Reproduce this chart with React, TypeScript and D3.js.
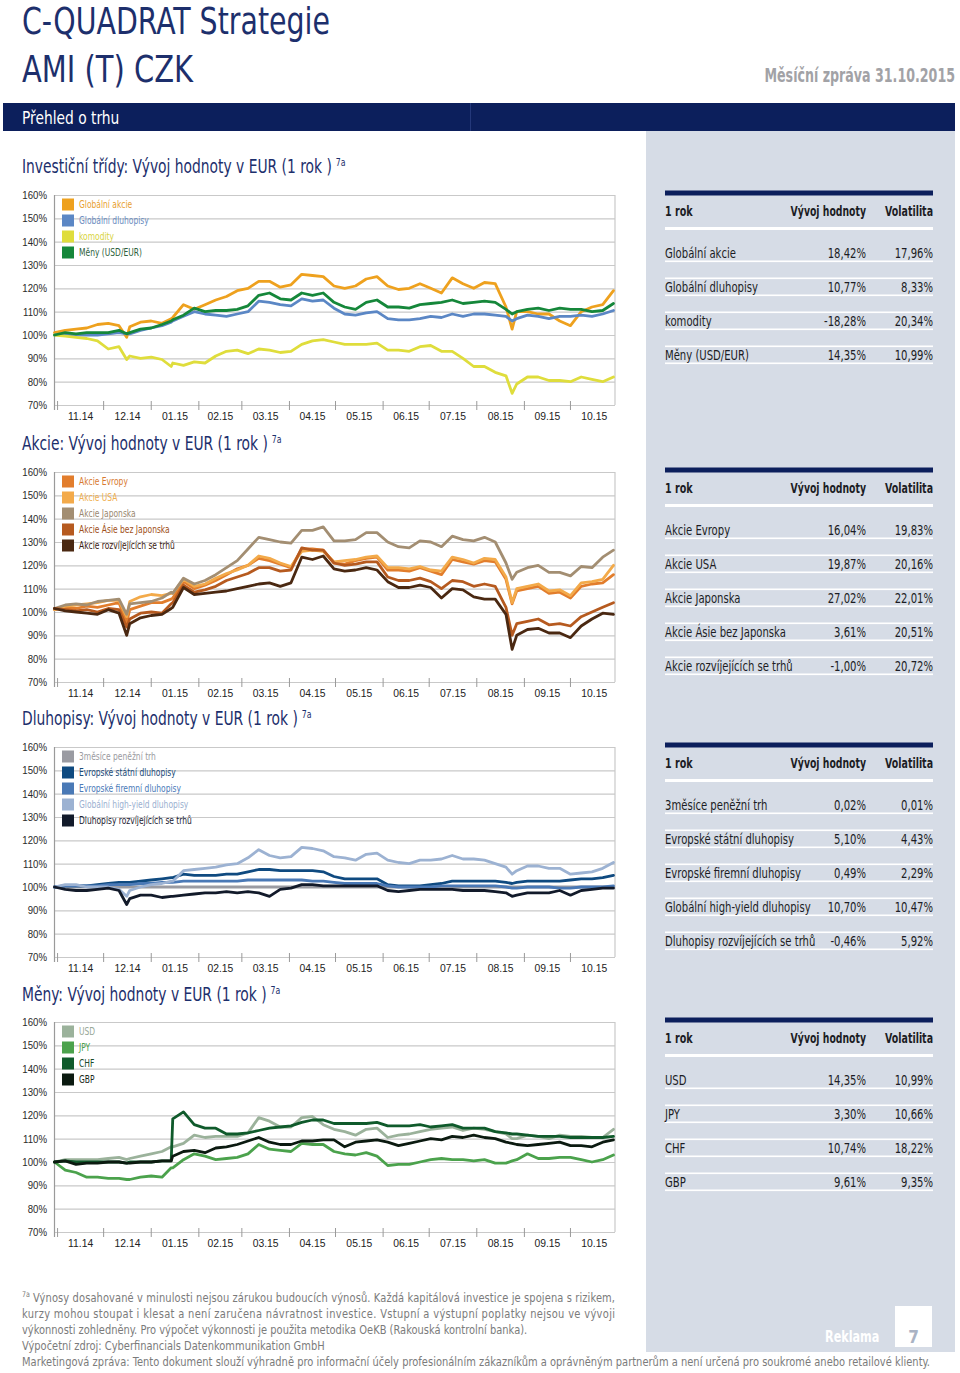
import React from 'react';
import * as d3 from 'd3';

// ---------- shared x grid (days after 30.10.2014) ----------
const DAYS = [0, 7, 14, 21, 28, 35, 42, 47, 49, 56, 63, 70, 76, 77, 84, 91, 98, 105, 112, 119, 126, 133, 140, 147, 154, 161, 168, 175, 182, 189, 196, 203, 210, 217, 224, 231, 238, 245, 252, 259, 266, 273, 280, 287, 294, 298, 301, 308, 315, 322, 329, 336, 343, 350, 357, 364];
const START = new Date(2014, 9, 30);
const DATES = DAYS.map((d) => d3.timeDay.offset(START, d));
const Y_TICKS = [70, 80, 90, 100, 110, 120, 130, 140, 150, 160];

// ---------- Chart 1: Investiční třídy ----------
const c1Names = ['Globální akcie', 'Globální dluhopisy', 'komodity', 'Měny (USD/EUR)'];
const c1Colors = ['#eea11e', '#5b87c5', '#dfdd3c', '#15873a'];
const c1Text = ['#e8a030', '#6a8cc0', '#d8d440', '#2f5f3d'];
const glAkcie = [101,102,102.5,103,104.5,105,104,99,103.5,105.5,106,105,107,107.5,113,111,113,115,116.5,119,120,123,123,120.5,121.5,126,125.5,125,121,120,121,124,125,121,119.5,120,122,120,118,124.5,122,120,122.5,122,112,102.5,110,110,109,109,106,104,110,112,113,119];
const glDluhopisy = [100,100.5,100,100,100,100.5,101,100.5,100.5,102,103,104,105.5,106,108,110,109,108.5,108,109,110,114.5,114,113,112.5,115.5,114.5,115,111.5,109,108.5,109.5,110,107,106.5,106.5,107,108,107.5,109,108,109,109,108.5,108,106,107,108.5,108,107,108,108,108.5,108,109,110.5];
const komodity = [100,99.5,99,98.5,97.5,94,95,89.5,91,90,90.5,89.5,86.5,88,87,88.5,88,91,93,93.5,92,94,93.5,92.5,93,96,97.5,98,97,96,96,96,96.5,93.5,93.5,93,95,95.5,93,93,90,86.5,86.5,84,82.5,75,79,82,82,80.5,80.5,80,82,81,80,82];
const menyUsdEur = [100,101,100.5,101,101,101,102,100.5,101,102.5,103,104.5,106,106.5,108.5,111.5,110,110.5,110.5,111,112.5,117,118,115.5,115,118,117,118,114,112,111,114,115,112,112,111.5,113,113.5,114,115,113.5,114,114.5,114,111,109,110,111,111.5,110.5,111.5,111,111,110,110.5,113.5];
const t1Names = ['Globální akcie', 'Globální dluhopisy', 'komodity', 'Měny  (USD/EUR)'];
const t1Perf = ['18,42%', '10,77%', '-18,28%', '14,35%'];
const t1Vol = ['17,96%', '8,33%', '20,34%', '10,99%'];

// ---------- Chart 2: Akcie ----------
const c2Names = ['Akcie Evropy', 'Akcie USA', 'Akcie Japonska', 'Akcie Ásie bez Japonska', 'Akcie rozvíjejících se trhů'];
const c2Colors = ['#e27d2c', '#f3aa4a', '#a38e72', '#b65a1f', '#4a2811'];
const c2Text = ['#d87a30', '#f0b050', '#9a8870', '#a05020', '#3a2010'];
const akcieEvropy = [101,102,101.5,102.5,102,103,104,95.5,101,102.5,104,104,105.5,106,113,110,111.5,113.5,116,118.5,120,123,122,120.5,119,127,127,126.5,121,120.5,122,123,123.5,118,118,117.5,119,117.5,116,122.5,121.5,120.5,122,121.5,114,103.5,109,110,111,108,108.5,106,111,112,112.5,116];
const akcieUSA = [101,102.5,103,103.5,104,105,105,98,104.5,106.5,107.5,107,108,108,114,111,112,114.5,116.5,118,120,124,123,121,119.5,126,126.5,126,121.5,122,122.5,123.5,124,119,119,118.5,119.5,118,117.5,123.5,122.5,121,123,122.5,115,104,110,111,112,109,109.5,107,112.5,113,114,120];
const akcieJaponska = [101.5,103,103.5,103,104.5,105,105.5,99,103.5,104,104.5,106,108.5,108,114.5,112,113.5,116,119,122,127,132,131,130,129.5,135,135,136.5,130.5,130.5,131,134,134,130,128,127.5,130.5,130,128,132.5,131,130.5,132,130,121,114,117,119,120,117,117,115.5,119.5,119,123.5,126.5];
const akcieAsie = [101.5,101,100.5,101,100,101.5,101,93.5,97,99.5,100,99.5,103.5,104,111.5,108.5,109.5,111,113.5,115,116.5,119,119,117.5,118,127.5,126.5,126.5,121,120,120.5,121.5,121.5,115,113.5,113.5,114.5,113,110,113.5,113,111,112,111,102,90,95,96,97,94.5,95,94,98,100,102,104];
const akcieEM = [101.5,100.5,100,99.5,99,101,99.5,90,95,97.5,98.5,99,101.5,102,110.5,107.5,108,108.5,109,110,111,112,112.5,111,112.5,123.5,122.5,124,118.5,117.5,118,119,118,113,110.5,110.5,111.5,110.5,106,110,109.5,106.5,105.5,105.5,99,84,90,92.5,93,91,91,89,94,97,99.5,99];
const t2Perf = ['16,04%', '19,87%', '27,02%', '3,61%', '-1,00%'];
const t2Vol = ['19,83%', '20,16%', '22,01%', '20,51%', '20,72%'];

// ---------- Chart 3: Dluhopisy ----------
const c3Names = ['3měsíce peněžní trh', 'Evropské státní dluhopisy', 'Evropské firemní dluhopisy', 'Globální high-yield dluhopisy', 'Dluhopisy rozvíjejících se trhů'];
const c3Colors = ['#9a9ba2', '#0f4a80', '#4a79b6', '#9cb2d2', '#121a2a'];
const c3Text = ['#9a9aa0', '#1a4a78', '#4a7ab8', '#9ab0d0', '#1a2030'];
const penezniTrh = [100,100,100,100,100,100,100,100,100,100,100,100,100,100,100,100,100,100,100,100,100,100,100,100,100,100,100,100,100,100,100,100,100,100,100,100,100,100,100,100,100,100,100,100,100,100,100,100,100,100,100,100,100,100,100,100];
const statniDluh = [100,100.5,100.5,100.5,101,101.5,102,102,102,102.5,103,103.5,104,104,105.5,105,105,105,105.5,105.5,106.5,107.5,107.5,107,107,107,107,106.5,104.5,103.5,103.5,103.5,103.5,101,100.5,100.5,100.5,101,101.5,102.5,102.5,102.5,102.5,102.5,102,101.5,102,102.5,102.5,102.5,102.5,103,103.5,103.5,104,105];
const firemniDluh = [100,100.5,100.5,100.5,100.5,101,101,101,101,101.5,101.5,102,102,102,102.5,102.5,102.5,102.5,102.5,102.5,103,103,103,103,103,103,102.5,102.5,102,101.5,101.5,101.5,101.5,100.5,100,100,100,100,100.5,100.5,100.5,100.5,100.5,100.5,100,99.5,99.5,100,100,100,99.5,99.5,100,100,100,100.5];
const highYield = [100,101,101,100,100,100,99,96,98.5,100,101,101.5,102.5,102.5,107,107.5,108,108.5,109.5,110,112.5,116,113.5,112.5,113,117,116.5,115.5,113,112.5,111.5,114,114.5,111.5,110.5,110,111.5,111.5,112,113.5,112,112,111.5,110,108.5,105.5,107,109,109,108,108,105.5,106,106.5,108,110.5];
const dluhEM = [100,99,98.5,98.5,99,99.5,98.5,92.5,95,96.5,96.5,95.5,96,96,96.5,97,97.5,97.5,98,97.5,98,97.5,96,99,99.5,101,101,100.5,100.5,100.5,100.5,100.5,100.5,98.5,98,98.5,99,99,99,99,98.5,98.5,98.5,98,97.5,96,96.5,97.5,97.5,97.5,98.5,96.5,98.5,99,99.5,99.5];
const t3Perf = ['0,02%', '5,10%', '0,49%', '10,70%', '-0,46%'];
const t3Vol = ['0,01%', '4,43%', '2,29%', '10,47%', '5,92%'];

// ---------- Chart 4: Měny ----------
const c4Names = ['USD', 'JPY', 'CHF', 'GBP'];
const c4Colors = ['#9bb29b', '#4ba24c', '#0f5a2b', '#0b1a10'];
const c4Text = ['#98a898', '#4aa04a', '#1a4a2a', '#1a2a1a'];
const usd = [100,101,101,101,101,101.5,102,101,101.5,102.5,103.5,104.5,106.5,106.5,108,111.5,110.5,111,111,111,112.5,119,117.5,115,115,119,119.5,116,114,113,111.5,114,114.5,110.5,111.5,112,113,114,114.5,115,113.5,114.5,114,113,112,110,110,111.5,111,110,111.5,111,111,110.5,110.5,114];
const jpy = [100,96.5,95.5,93.5,93.5,93,93,92.5,92.5,93.5,94,93.5,97.5,97.5,101,103.5,102.5,101,101.5,102,103.5,107.5,105.5,105,104.5,108,107.5,107.5,104.5,103.5,103,104,102.5,98.5,99,99,100,101,101.5,101,101,100.5,101,99.5,99.5,100.5,101,103.5,101.5,101.5,102,102,101,100,101,103];
const chf = [100,100.5,100,100,100,100,100,99.5,100,100,100,100.5,100.5,118.5,121.5,116,114.5,114.5,112,112,112.5,113.5,114.5,115,115.5,117,118,118,116.5,116.5,116.5,116.5,117,115.5,115.5,115.5,116,115,115.5,116,114.5,114.5,114.5,113,112.5,112,112,111.5,111,111,111,110.5,110.5,110.5,110.5,111];
const gbp = [100,100.5,99,99.5,99.5,100,100,99.5,99.5,100,100,100.5,100.5,102.5,104.5,105,104,106,106.5,107.5,109,110.5,108.5,107.5,107.5,109,109,109.5,109.5,106.5,108.5,109,109.5,108.5,107,108,109,110,109.5,111,110.5,111.5,110.5,110,108.5,108,107.5,107,107.5,108,108.5,107,107,106.5,108.5,109.5];
const t4Perf = ['14,35%', '3,30%', '10,74%', '9,61%'];
const t4Vol = ['10,99%', '10,66%', '18,22%', '9,35%'];

const COND = "'DejaVu Sans Condensed','DejaVu Sans',sans-serif";
const ARIAL = "'Liberation Sans',Arial,sans-serif";
const NAVY = '#0c1f5c';
const TITLE_NAVY = '#1d2f6c';
const PANEL = '#d6dce6';

const X_LEFT = 54.5;
const X_RIGHT = 615;
const PLOT_H = 210;

// horizontally compressed text (emulates the condensed typeface)
function T({ x, y, sx, children, ...rest }: any) {
  return (
    <text transform={`translate(${x},${y}) scale(${sx},1)`} {...rest}>
      {children}
    </text>
  );
}

function LineChart({ top, names, colors, textColors, series }: any) {
  const x = d3.scaleTime().domain([START, d3.timeDay.offset(START, 365)]).range([X_LEFT, X_RIGHT]);
  const y = d3.scaleLinear().domain([70, 160]).range([top + PLOT_H, top]);
  const bottom = top + PLOT_H;
  const line = d3.line<number>().x((_, i) => x(DATES[i])).y((v) => y(v));
  const months = d3.timeMonth.range(new Date(2014, 10, 1), new Date(2015, 10, 1));
  const fmt = d3.timeFormat('%m.%y');
  const legendTop = top + 9.5;
  return (
    <g>
      {Y_TICKS.map((t) => (
        <g key={t}>
          <line x1={X_LEFT} x2={X_RIGHT} y1={y(t) + 0.5} y2={y(t) + 0.5} stroke="#c9c9c9" strokeWidth={1.2} />
          <T x={47} y={y(t) + 4} sx={0.84} textAnchor="end" fontFamily={ARIAL} fontSize={11.5} fill="#2a2a2a">{t}%</T>
        </g>
      ))}
      <line x1={X_RIGHT} x2={X_RIGHT} y1={top} y2={bottom} stroke="#c9c9c9" strokeWidth={1.2} />
      <line x1={X_LEFT} x2={X_LEFT} y1={top} y2={bottom + 5} stroke="#9a9a9a" strokeWidth={1.2} />
      {months.map((m) => {
        const next = d3.timeMonth.offset(m, 1);
        const mx = x(m);
        const lx = (x(m) + x(next)) / 2;
        return (
          <g key={m.toISOString()}>
            <line x1={mx} x2={mx} y1={bottom - 4} y2={bottom + 5} stroke="#9a9a9a" strokeWidth={1} />
            <T x={lx} y={bottom + 15} sx={0.9} textAnchor="middle" fontFamily={ARIAL} fontSize={11.5} fill="#222">{fmt(m)}</T>
          </g>
        );
      })}
      {series.map((s: number[], k: number) => (
        <path key={k} d={line(s) || ''} fill="none" stroke={colors[k]} strokeWidth={2.8} strokeLinejoin="round" strokeLinecap="round" />
      ))}
      {names.map((n: string, k: number) => (
        <g key={n}>
          <rect x={62} y={legendTop + 16 * k - 6} width={12} height={12} fill={colors[k]} />
          <T x={79} y={legendTop + 16 * k + 3.5} sx={0.8} fontFamily={COND} fontSize={10.5} fill={textColors[k]}>{n}</T>
        </g>
      ))}
    </g>
  );
}

function StatTable({ top, names, perf, vol }: any) {
  const rows0 = top + 63;
  const n = names.length;
  const lines = d3.range(0, 2 * (n - 1) + 1);
  return (
    <g fontFamily={COND} fill="#1c1c24">
      <rect x={665} y={top - 4.5} width={268} height={5} fill={NAVY} />
      <T x={665} y={top + 21} sx={0.76} fontSize={14} fontWeight="bold">1 rok</T>
      <T x={866} y={top + 21} sx={0.74} fontSize={14} fontWeight="bold" textAnchor="end">Vývoj hodnoty</T>
      <T x={933} y={top + 21} sx={0.75} fontSize={14} fontWeight="bold" textAnchor="end">Volatilita</T>
      <rect x={665} y={top + 32} width={268} height={3} fill="#ffffff" />
      {lines.map((j) => (
        <rect key={j} x={665} y={rows0 + 2.5 + 17 * j} width={268} height={1.6} fill="#ffffff" />
      ))}
      {names.map((nm: string, k: number) => (
        <g key={nm}>
          <T x={665} y={rows0 + 34 * k} sx={0.8} fontSize={14}>{nm}</T>
          <T x={866} y={rows0 + 34 * k} sx={0.8} fontSize={14} textAnchor="end">{perf[k]}</T>
          <T x={933} y={rows0 + 34 * k} sx={0.8} fontSize={14} textAnchor="end">{vol[k]}</T>
        </g>
      ))}
    </g>
  );
}

function SectionTitle({ y, label }: any) {
  return (
    <T x={22} y={y} sx={0.79} fontFamily={COND} fontSize={19.5} fill={TITLE_NAVY}>
      <tspan>{label}</tspan>
      <tspan dx={5} dy={-7} fontSize={11}>7a</tspan>
    </T>
  );
}

export default function App() {
  const tops = [195, 472, 747, 1022];
  const titleY = [173, 450, 725, 1001];
  const FSX = 0.88;
  return (
    <svg width={960} height={1373} style={{ position: 'absolute', left: 0, top: 0, background: '#fff' }}>
      <rect x={0} y={0} width={960} height={1373} fill="#ffffff" />
      {/* header */}
      <text x={22} y={34} fontFamily={COND} fontSize={38} fill={TITLE_NAVY} textLength={308} lengthAdjust="spacingAndGlyphs">C-QUADRAT Strategie</text>
      <text x={22} y={82} fontFamily={COND} fontSize={38} fill={TITLE_NAVY} textLength={171} lengthAdjust="spacingAndGlyphs">AMI (T) CZK</text>
      <T x={955} y={82} sx={0.74} fontFamily={COND} fontSize={19} fontWeight="bold" fill="#a2a2a6" textAnchor="end">Měsíční zpráva 31.10.2015</T>
      <rect x={3} y={103} width={952} height={28} fill={NAVY} />
      <line x1={470.5} x2={470.5} y1={103} y2={131} stroke="#24387a" strokeWidth={1} />
      <T x={22} y={124} sx={0.83} fontFamily={COND} fontSize={18.5} fill="#ffffff">Přehled o trhu</T>
      <rect x={646} y={131} width={309} height={1221} fill={PANEL} />

      <SectionTitle y={titleY[0]} label="Investiční třídy: Vývoj hodnoty v EUR (1 rok )" />
      <SectionTitle y={titleY[1]} label="Akcie: Vývoj hodnoty v EUR (1 rok )" />
      <SectionTitle y={titleY[2]} label="Dluhopisy: Vývoj hodnoty v EUR (1 rok )" />
      <SectionTitle y={titleY[3]} label="Měny: Vývoj hodnoty v EUR (1 rok )" />

      <LineChart top={tops[0]} names={c1Names} colors={c1Colors} textColors={c1Text} series={[glAkcie, glDluhopisy, komodity, menyUsdEur]} />
      <LineChart top={tops[1]} names={c2Names} colors={c2Colors} textColors={c2Text} series={[akcieEvropy, akcieUSA, akcieJaponska, akcieAsie, akcieEM]} />
      <LineChart top={tops[2]} names={c3Names} colors={c3Colors} textColors={c3Text} series={[penezniTrh, statniDluh, firemniDluh, highYield, dluhEM]} />
      <LineChart top={tops[3]} names={c4Names} colors={c4Colors} textColors={c4Text} series={[usd, jpy, chf, gbp]} />

      <StatTable top={tops[0]} names={t1Names} perf={t1Perf} vol={t1Vol} />
      <StatTable top={tops[1]} names={c2Names} perf={t2Perf} vol={t2Vol} />
      <StatTable top={tops[2]} names={c3Names} perf={t3Perf} vol={t3Vol} />
      <StatTable top={tops[3]} names={c4Names} perf={t4Perf} vol={t4Vol} />

      {/* footer */}
      <g fontFamily={COND} fontSize={12.5} fill="#7b7b7b">
        <T x={22} y={1297} sx={FSX} fontSize={8}>7a</T>
        <T x={33} y={1302} sx={FSX} textLength={582 / FSX} lengthAdjust="spacing">Výnosy dosahované v minulosti nejsou zárukou budoucích výnosů. Každá kapitálová investice je spojena s rizikem,</T>
        <T x={22} y={1318} sx={FSX} textLength={593 / FSX} lengthAdjust="spacing">kurzy mohou stoupat i klesat a není zaručena návratnost investice. Vstupní a výstupní poplatky nejsou ve vývoji</T>
        <T x={22} y={1334} sx={FSX}>výkonnosti zohledněny. Pro výpočet výkonnosti je použita metodika OeKB (Rakouská kontrolní banka).</T>
        <T x={22} y={1350} sx={FSX}>Výpočetní zdroj: Cyberfinancials Datenkommunikation GmbH</T>
        <T x={22} y={1366} sx={FSX} textLength={908 / FSX} lengthAdjust="spacing">Marketingová zpráva: Tento dokument slouží výhradně pro informační účely profesionálním zákazníkům a oprávněným partnerům a není určená pro soukromé anebo retailové klienty.</T>
      </g>
      <T x={825} y={1342} sx={0.78} fontFamily={COND} fontSize={16} fontWeight="bold" fill="#ffffff">Reklama</T>
      <rect x={895} y={1306} width={37} height={41} fill="#ffffff" />
      <text x={913.5} y={1343} fontFamily={COND} fontSize={17} fontWeight="bold" fill="#aab3c4" textAnchor="middle">7</text>
    </svg>
  );
}
